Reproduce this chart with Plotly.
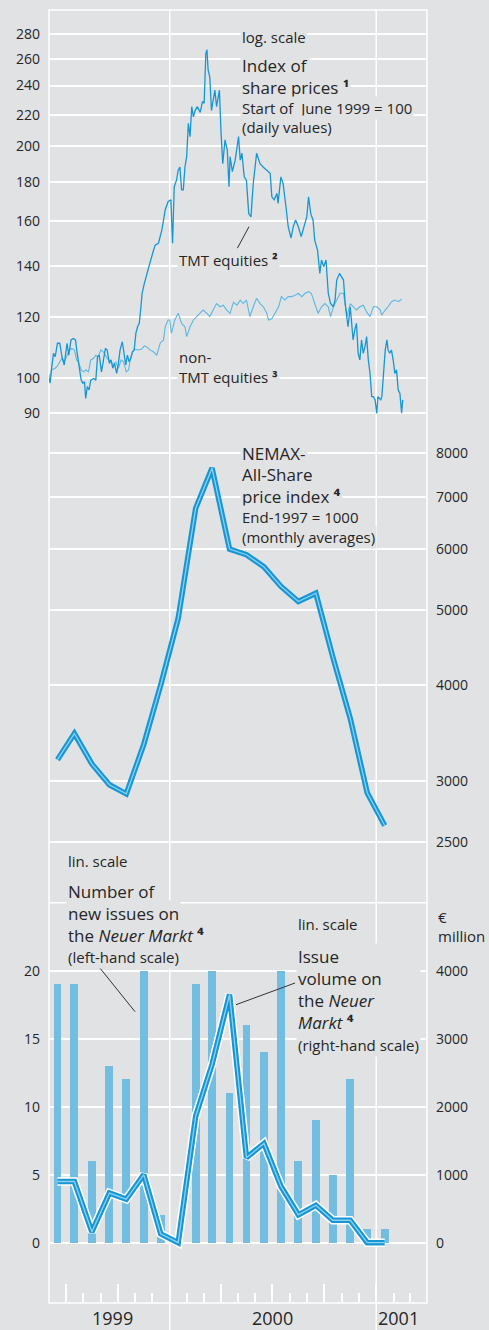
import pandas as pd
import plotly.graph_objects as go

# ---------------- data ----------------
start = pd.Timestamp("1999-06-01")

# Index of share prices, start of June 1999 = 100 (days after 1 June 1999)
tmt_day = [0, 2, 5, 8, 11, 15, 19, 23, 27, 30,
           32, 35, 39, 43, 47, 50, 54, 57, 60, 63,
           65, 68, 71, 74, 79, 83, 86, 89, 93, 97,
           100, 103, 107, 110, 113, 116, 120, 123, 126, 130,
           133, 136, 139, 142, 145, 148, 151, 154, 157, 160,
           163, 165, 169, 176, 182, 188, 194, 200, 206, 211,
           216, 219, 222, 226, 229, 232, 235, 238, 241, 244,
           247, 250, 253, 256, 259, 263, 268, 272, 275, 278,
           280, 282, 285, 288, 291, 294, 297, 300, 302, 305,
           308, 312, 316, 319, 321, 325, 330, 336, 339, 342,
           346, 350, 354, 358, 362, 368, 374, 380, 386, 392,
           395, 399, 404, 406, 411, 415, 420, 424, 429, 433,
           437, 442, 447, 453, 457, 460, 464, 468, 471, 476,
           480, 483, 487, 491, 495, 499, 504, 507, 510, 515,
           519, 522, 525, 528, 530, 534, 537, 539, 542, 545,
           548, 551, 554, 557, 560, 563, 566, 569, 572, 575,
           578, 581, 583, 585, 588, 590, 593, 596, 599, 601,
           604, 607, 610, 613, 616, 619, 622, 625, 627]
tmt_val = [100, 98.5, 103.5, 107.7, 106.6, 111, 111, 106.6, 104, 107.7,
           111, 107.1, 112.1, 112.6, 112.1, 107.7, 102.5, 99.4, 98.5, 98.9,
           94.1, 97.5, 96.5, 99.4, 99.9, 99.4, 106.6, 107.1, 101.9, 105.6,
           109.3, 108.8, 104.5, 105.6, 103, 104.5, 101.4, 104.5, 108.8, 111.5,
           108.2, 104, 107.1, 105, 106.1, 108.2, 108.8, 114.3, 116.6, 117.8,
           123.8, 128.9, 132.8, 138.1, 143.8, 148.9, 149.7, 155.7, 165.4, 169.5,
           170.5, 149.7, 177.3, 180.8, 186.3, 188.1, 175.6, 175.6, 188.1, 194,
           214.4, 206, 225.3, 218.6, 222.7, 225.3, 221.5, 228.8, 227.6, 264.3,
           267.1, 251.5, 246.2, 222.7, 229.9, 236.7, 225.3, 234.4, 236.7, 208,
           190, 204, 198, 177.3, 194, 185.5, 192, 206, 192, 196,
           182.6, 180.7, 163.6, 162, 179, 196, 190, 188, 186.3, 184.6,
           172, 170.5, 173.8, 168.7, 182.6, 179, 167, 157.3, 152.1, 157.3,
           160.5, 157.3, 152.7, 158.8, 162.1, 172, 163.6, 160.5, 151, 146.7,
           136.8, 142.4, 139.6, 142.4, 128.9, 125, 123.8, 126.3, 134.1, 136.8,
           135.4, 134.1, 125, 120.2, 116.6, 123.8, 114.3, 112.1, 115.5, 117.8,
           107.7, 105.6, 112.1, 107.7, 109.8, 113.2, 105.6, 101.4, 94.6, 94.6,
           93.7, 90, 94.6, 94.1, 93.7, 94.6, 103.5, 108.8, 112.1, 108.8,
           107.7, 108.8, 105.6, 101.4, 102.5, 96.5, 95.5, 90, 93.7]

non_day = [0, 5, 11, 16, 23, 27, 31, 35, 40, 45,
           49, 52, 57, 61, 65, 70, 74, 79, 83, 87,
           92, 96, 100, 105, 110, 114, 118, 123, 128, 132,
           137, 141, 144, 148, 152, 158, 164, 169, 173, 179,
           185, 191, 197, 203, 206, 211, 214, 217, 223, 229,
           235, 241, 244, 250, 256, 262, 268, 273, 280, 285,
           291, 297, 303, 309, 315, 321, 327, 333, 339, 344,
           350, 356, 362, 368, 374, 380, 386, 389, 395, 401,
           407, 412, 418, 424, 430, 437, 442, 448, 454, 460,
           465, 471, 477, 483, 489, 495, 499, 504, 510, 516,
           522, 525, 528, 534, 539, 545, 551, 557, 563, 569,
           575, 581, 587, 590, 596, 601, 607, 613, 619, 625]
non_val = [100, 102.5, 103, 104, 106.1, 105, 106.6, 108.2, 109.3, 108.8,
           105.6, 105, 102.5, 101.9, 102.5, 101.9, 105.6, 106.1, 107.1, 106.6,
           108.8, 108.2, 107.1, 105.6, 105, 104, 105, 103, 105.6, 105,
           101.9, 102.5, 105.6, 108.2, 109, 108.8, 109, 110.1, 109.8, 108.8,
           108.2, 107.1, 111, 112.1, 116.6, 119, 119, 114.3, 119, 121.4,
           117.8, 116.6, 113.2, 116.6, 119, 120.2, 121.4, 122.6, 121.4, 120.2,
           122.6, 125, 123.8, 124.4, 122.6, 121.4, 125.5, 124.4, 126.3, 125,
           126.3, 120.2, 123.8, 127, 125, 123.8, 121.4, 119, 119.4, 121.4,
           123.8, 127.6, 126.3, 127.6, 127.6, 128.2, 128.9, 127.6, 128.9, 129.5,
           128.9, 125, 121.4, 123.8, 125, 123.8, 120.2, 123.8, 126.3, 128.9,
           128.9, 125, 120.2, 125, 123.8, 122.6, 123.8, 124.4, 121.9, 120.2,
           123.8, 123.8, 122.6, 120.8, 122.6, 123.8, 125.7, 126.3, 125.7, 126.6]

# Monthly series, June 1999 - January 2001
months = pd.date_range("1999-06-01", "2001-01-01", freq="MS")
nemax = [3200, 3460, 3160, 2970, 2890, 3350, 4000, 4880, 6780, 7640,
         6000, 5900, 5690, 5370, 5130, 5260, 4350, 3620, 2900, 2630]
new_issues = [19, 19, 6, 13, 12, 20, 2, 0, 19, 20,
              11, 16, 14, 20, 6, 9, 5, 12, 1, 1]
issue_volume = [900, 900, 160, 730, 640, 1000, 130, 0, 1860, 2620,
                3650, 1250, 1460, 830, 410, 550, 330, 330, 0, 0]

top_ticks = [90, 100, 120, 140, 160, 180, 200, 220, 240, 260, 280]
mid_ticks = [2500, 3000, 4000, 5000, 6000, 7000, 8000]
left_ticks = [0, 5, 10, 15, 20]
left_extra_grid = 25
right_ticks = [0, 1000, 2000, 3000, 4000]
years = ["1999", "2000", "2001"]
year_label_dates = ["1999-09-22", "2000-07-01", "2001-02-10"]

# ---------------- layout helpers ----------------
W, H = 489, 1330
ML, MR, MT, MB = 49, 62, 10, 27
PW, PH = W - ML - MR, H - MT - MB


def px(x):
    return (x - ML) / PW


def py(y):
    return (H - MB - y) / PH


BG = "#e1e2e4"
TXT = "#262626"
FONT = "Open Sans"
BLUE = "#1597d5"
LIGHT = "#5bb7e3"
BAR = "#73bde0"
INNER = "#8fd0f0"

tmt_dates = [start + pd.Timedelta(days=d) for d in tmt_day]
non_dates = [start + pd.Timedelta(days=d) for d in non_day]
mid = months + pd.Timedelta(days=15)

fig = go.Figure()
fig.add_trace(go.Scatter(x=non_dates, y=non_val, mode="lines", yaxis="y",
                         line=dict(color=LIGHT, width=1.1)))
fig.add_trace(go.Scatter(x=tmt_dates, y=tmt_val, mode="lines", yaxis="y",
                         line=dict(color=BLUE, width=1.3)))
# NEMAX
fig.add_trace(go.Scatter(x=mid, y=nemax, mode="lines", yaxis="y2",
                         line=dict(color=BLUE, width=5.5)))
fig.add_trace(go.Scatter(x=mid, y=nemax, mode="lines", yaxis="y2",
                         line=dict(color=INNER, width=1.3)))
# bars + issue volume
fig.add_trace(go.Bar(x=mid, y=new_issues, yaxis="y3", marker_color=BAR,
                     marker_line_width=0, width=14 * 86400000))
fig.add_trace(go.Scatter(x=mid, y=issue_volume, mode="lines", yaxis="y4",
                         line=dict(color="white", width=8.5)))
fig.add_trace(go.Scatter(x=mid, y=issue_volume, mode="lines", yaxis="y4",
                         line=dict(color=BLUE, width=5.5)))
fig.add_trace(go.Scatter(x=mid, y=issue_volume, mode="lines", yaxis="y4",
                         line=dict(color=INNER, width=1.3)))

tickfont = dict(family=FONT, size=14, color=TXT)
common_y = dict(showline=False, zeroline=False, gridcolor="white", gridwidth=1.5,
                tickfont=tickfont, tickmode="array", ticks="", ticklabelstandoff=8,
                fixedrange=True)

fig.update_layout(
    width=W, height=H, template="none",
    margin=dict(l=ML, r=MR, t=MT, b=MB, pad=0),
    paper_bgcolor=BG, plot_bgcolor="rgba(0,0,0,0)",
    showlegend=False, bargap=0,
    xaxis=dict(type="date", range=[start, pd.Timestamp("2001-04-01")], domain=[0, 1],
               anchor="y3", showgrid=False, zeroline=False, showline=False,
               showticklabels=False, ticks="inside", ticklen=19, tickwidth=1.5,
               tickcolor="white", dtick="M3", tick0="1999-01-01",
               minor=dict(dtick="M1", ticks="inside", ticklen=10, tickwidth=1.5,
                          tickcolor="white", showgrid=False)),
    yaxis=dict(common_y, type="log", domain=[py(433), 1], anchor="x", side="left",
               range=[1.92865, 2.47842], tickvals=top_ticks,
               ticktext=[str(v) for v in top_ticks]),
    yaxis2=dict(common_y, type="log", domain=[py(870), py(433)], anchor="x", side="right",
                range=[3.3622, 3.92863], tickvals=mid_ticks,
                ticktext=[str(v) for v in mid_ticks]),
    yaxis3=dict(common_y, domain=[0, py(870)], anchor="x", side="left",
                range=[-4.434, 27.40], tickvals=left_ticks,
                ticktext=[str(v) for v in left_ticks]),
    yaxis4=dict(common_y, overlaying="y3", anchor="x", side="right", showgrid=False,
                range=[-886.8, 5480], tickvals=right_ticks,
                ticktext=[str(v) for v in right_ticks]),
)

shapes = [
    dict(type="rect", xref="paper", yref="paper", x0=0, x1=1, y0=0, y1=1,
         line=dict(color="white", width=1.5), layer="below"),
    dict(type="line", xref="paper", yref="y3", x0=0, x1=1, y0=left_extra_grid,
         y1=left_extra_grid, line=dict(color="white", width=1.5), layer="below"),
]
for yr in ["2000-01-01", "2001-01-01"]:
    shapes.append(dict(type="line", xref="x", yref="paper", x0=yr, x1=yr,
                       y0=py(1330), y1=1, line=dict(color="white", width=1.5),
                       layer="below"))
for (x0, y0, x1, y1) in [(249, 226.7, 237.3, 248.3), (98.3, 966, 135, 1011.7),
                         (295, 983, 236, 1004.7)]:
    shapes.append(dict(type="line", xref="paper", yref="paper", x0=px(x0), y0=py(y0),
                       x1=px(x1), y1=py(y1), line=dict(color="#333333", width=1)))
fig.update_layout(shapes=shapes)


def label(x, y, text, size=15, bg=True):
    return dict(xref="paper", yref="paper", x=px(x - 2), y=py(y), text=text,
                showarrow=False, xanchor="left", yanchor="middle", align="left",
                font=dict(family=FONT, size=size, color=TXT),
                bgcolor=BG if bg else None, borderpad=1)


SUP = {"1": "\u00b9", "2": "\u00b2", "3": "\u00b3", "4": "\u2074"}


def note(n):
    return " <b>" + SUP[n] + "</b>"


SMALL = '<span style="font-size:15px">%s</span>'
anns = [
    label(242, 37, "log. scale"),
    label(242, 65.5, "Index of", 17),
    label(242, 87.5, "share prices" + note("1"), 17),
    label(242, 108, "Start of  June 1999 = 100"),
    label(242, 127.5, "(daily values)"),
    label(179, 260, "TMT equities" + note("2")),
    label(179, 357, "non-"),
    label(179, 377, "TMT equities" + note("3")),
    label(242, 453, "NEMAX-", 17),
    label(242, 475, "All-Share", 17),
    label(242, 497, "price index" + note("4"), 17),
    label(242, 517, "End-1997 = 1000"),
    label(242, 537, "(monthly averages)"),
    label(68, 861, "lin. scale"),
    label(68, 892, "Number of", 17),
    label(68, 914, "new issues on", 17),
    label(68, 936, "the <i>Neuer Markt</i>" + note("4"), 17),
    label(68, 957, "(left-hand scale)"),
    label(298, 924, "lin. scale"),
    label(438, 917, "€", bg=False),
    label(438, 936, "million", bg=False),
    label(298, 1000, "Issue<br>volume on<br>the <i>Neuer</i><br><i>Markt</i>" + note("4")
          + "<br>" + SMALL % "(right-hand scale)", 17),
]
for yl, d in zip(years, year_label_dates):
    anns.append(dict(xref="x", yref="paper", x=d, y=py(1318), text=yl, showarrow=False,
                     xanchor="center", yanchor="middle",
                     font=dict(family=FONT, size=18, color=TXT)))
fig.update_layout(annotations=anns)

fig.write_html("out.html")
